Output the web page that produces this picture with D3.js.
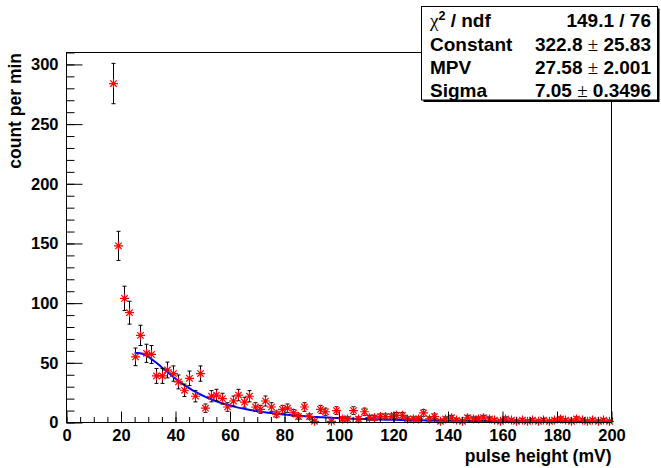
<!DOCTYPE html>
<html><head><meta charset="utf-8">
<script src="https://cdn.jsdelivr.net/npm/d3@7"></script>
<style>html,body{margin:0;padding:0;background:#fff;} svg{display:block;}</style>
</head><body>
<svg id="c" width="661" height="468"></svg>
<script>
const binCenters = [17,19,21,23,25,27,29,31,33,35,37,39,41,43,45,47,49,51,53,55,57,59,61,63,65,67,69,71,73,75,77,79,81,83,85,87,89,91,93,95,97,99,101,103,105,107,109,111,113,115,117,119,121,123,125,127,129,131,133,135,137,139,141,143,145,147,149,151,153,155,157,159,161,163,165,167,169,171,173,175,177,179,181,183,185,187,189,191,193,195,197,199];
const counts = [284,148,104,92,55,73,58,57,39,39,
  44,41,34,27,37,22,41,12,22,23,
  20,13,18,23,17,22,13,11,18,13,
  7,11,12,8,5,13,5,1,11,9,
  1,10,3,3,10,3,9,4,4,5,
  5,5,6,6,3,3,3,8,3,5,
  1,3,4,2,1,4,3,3,4,3,
  2,1,3,2,1,2,1,2,1,2,
  1,2,3,2,1,3,2,1,2,1,
  2,1];
const countErrors = [16.9,12.2,10.2,9.6,7.4,8.5,7.6,7.5,6.2,6.2,
  6.6,6.4,5.8,5.2,6.1,4.7,6.4,3.5,4.7,4.8,
  4.5,3.6,4.2,4.8,4.1,4.7,3.6,3.3,4.2,3.6,
  2.6,3.3,3.5,2.8,2.2,3.6,2.2,1,3.3,3,
  1,3.2,1.7,1.7,3.2,1.7,3,2,2,2.2,
  2.2,2.2,2.4,2.4,1.7,1.7,1.7,2.8,1.7,2.2,
  1,1.7,2,1.4,1,2,1.7,1.7,2,1.7,
  1.4,1,1.7,1.4,1,1.4,1,1.4,1,1.4,
  1,1.4,1.7,1.4,1,1.7,1.4,1,1.4,1,
  1.4,1];
// Landau fit curve (Constant 322.8, MPV 27.58, Sigma 7.05), sampled values
const fitX = [25,26,27,28,29,30,31,32,33,34,35,36,37,38,39,40,41,42,43,44,45,46,47,48,49,50,51,52,53,54,55,56,57,58,59,60,
  62,64,66,68,70,72,74,76,78,80,82,84,86,88,90,92,94,96,98,100,
  105,110,115,120,125,130,135,140,145,150,155,160,165,170,175,180,185,190,195,200];
const fitY = [58.04,58.32,58.08,57.4,56.37,55.05,53.51,51.8,49.98,48.09,46.16,44.21,42.29,40.39,38.54,36.74,35.01,33.34,31.74,30.22,28.77,27.39,26.08,24.83,23.66,22.54,21.49,20.49,19.55,18.66,17.82,17.02,16.27,15.56,14.89,14.26,
  13.09,12.04,11.1,10.26,9.5,8.81,8.19,7.63,7.11,6.65,6.22,5.84,5.48,5.15,4.86,4.58,4.33,4.09,3.87,3.67,
  3.23,2.86,2.55,2.28,2.06,1.86,1.69,1.54,1.41,1.3,1.19,1.1,1.02,0.95,0.89,0.83,0.77,0.72,0.68,0.64];
const xTicks = [0,20,40,60,80,100,120,140,160,180,200];
const yTicks = [0,50,100,150,200,250,300];
const statsLabels = ["Constant","MPV","Sigma"];
const statsValues = ["322.8","27.58","7.05"];
const statsErrors = ["25.83","2.001","0.3496"];
const chi2Text = "149.1 / 76";
const xTitle = "pulse height (mV)";
const yTitle = "count per min";

const svg = d3.select('#c');
const L=66.5,R=611.5,T=52.5,B=422.5;
const x = d3.scaleLinear().domain([0,200]).range([L,R]);
const y = d3.scaleLinear().domain([0,310]).range([B,T]);
const font = "'Liberation Sans', Arial, Helvetica, sans-serif";

// fit curve
svg.append('path').datum(fitX.map((d,i)=>[d,fitY[i]]))
  .attr('d', d3.line().x(d=>x(d[0])).y(d=>y(d[1])).curve(d3.curveMonotoneX))
  .attr('fill','none').attr('stroke','#0000ff').attr('stroke-width',2);

// error bars
const eb = svg.append('g').attr('stroke','#000').attr('stroke-width',1);
binCenters.forEach((c,i)=>{
  const cx = Math.round(x(c))+0.5;
  const y1 = y(counts[i]+countErrors[i]), y2 = y(counts[i]-countErrors[i]);
  eb.append('line').attr('x1',cx).attr('x2',cx).attr('y1',y1).attr('y2',y2);
  eb.append('line').attr('x1',cx-2).attr('x2',cx+2).attr('y1',y1).attr('y2',y1);
  eb.append('line').attr('x1',cx-2).attr('x2',cx+2).attr('y1',y2).attr('y2',y2);
});
// markers
const star = "M-4.5,0H4.5M0,-4.5V4.5M-3.2,-3.2L3.2,3.2M-3.2,3.2L3.2,-3.2";
svg.append('g').selectAll('path').data(binCenters).join('path')
  .attr('transform',(c,i)=>`translate(${Math.round(x(c))+0.5},${y(counts[i])})`)
  .attr('d',star).attr('stroke','#ff0000').attr('stroke-width',1.2).attr('fill','none');

// axes
const gx = svg.append('g').attr('transform',`translate(0,${B})`);
gx.call(d3.axisBottom(x).tickValues(d3.range(0,201,5)).tickSize(-5.5).tickFormat(''));
const gx2 = svg.append('g').attr('transform',`translate(0,${B})`);
gx2.call(d3.axisBottom(x).tickValues(xTicks).tickSize(-11).tickPadding(7).tickFormat(d3.format('d')));
const gy = svg.append('g').attr('transform',`translate(${L},0)`);
gy.call(d3.axisLeft(y).tickValues(d3.range(0,311,10)).tickSize(-8).tickFormat(''));
const gy2 = svg.append('g').attr('transform',`translate(${L},0)`);
gy2.call(d3.axisLeft(y).tickValues(yTicks).tickSize(-16).tickPadding(8).tickFormat(d3.format('d')));
svg.selectAll('.domain').remove();
svg.selectAll('.tick line').attr('stroke','#000');
svg.selectAll('.tick text').attr('font-family',font).attr('font-weight','bold').attr('font-size',16.5).attr('fill','#000');

// frame
svg.append('rect').attr('x',L).attr('y',T).attr('width',R-L).attr('height',B-T)
  .attr('fill','none').attr('stroke','#000').attr('stroke-width',1);

// titles
svg.append('text').attr('x',R).attr('y',462).attr('text-anchor','end')
  .attr('font-family',font).attr('font-weight','bold').attr('font-size',17.5).text(xTitle);
svg.append('text').attr('transform','translate(21,53) rotate(-90)').attr('text-anchor','end')
  .attr('font-family',font).attr('font-weight','bold').attr('font-size',17.5).text(yTitle);

// stats box
const bx=421.5, by=6.5, bw=236, bh=93.5;
svg.append('rect').attr('x',bx+2).attr('y',by+2).attr('width',bw).attr('height',bh).attr('fill','#000');
svg.append('rect').attr('x',bx).attr('y',by).attr('width',bw).attr('height',bh).attr('fill','#fff').attr('stroke','#000');
const fs=19, lx=430, rx=651;
const base=[27,50.5,74,96.5];
const t0 = svg.append('text').attr('x',lx).attr('y',base[0]).attr('font-family',font).attr('font-weight','bold').attr('font-size',fs);
t0.append('tspan').attr('font-family',"'Liberation Serif', serif").attr('font-weight','normal').text('χ');
t0.append('tspan').attr('font-size',12.5).attr('dy',-7).text('2');
t0.append('tspan').attr('dy',7).text(' / ndf');
svg.append('text').attr('x',rx).attr('y',base[0]).attr('text-anchor','end').attr('font-family',font).attr('font-weight','bold').attr('font-size',fs).text(chi2Text);
statsLabels.forEach((lab,i)=>{
  svg.append('text').attr('x',lx).attr('y',base[i+1]).attr('font-family',font).attr('font-weight','bold').attr('font-size',fs).text(lab);
  const t = svg.append('text').attr('x',rx).attr('y',base[i+1]).attr('text-anchor','end').attr('font-family',font).attr('font-weight','bold').attr('font-size',fs);
  t.append('tspan').text(statsValues[i]+' ');
  t.append('tspan').attr('font-family',"'Liberation Serif', serif").attr('font-weight','normal').text('±');
  t.append('tspan').text(' '+statsErrors[i]);
});
</script>
</body></html>
